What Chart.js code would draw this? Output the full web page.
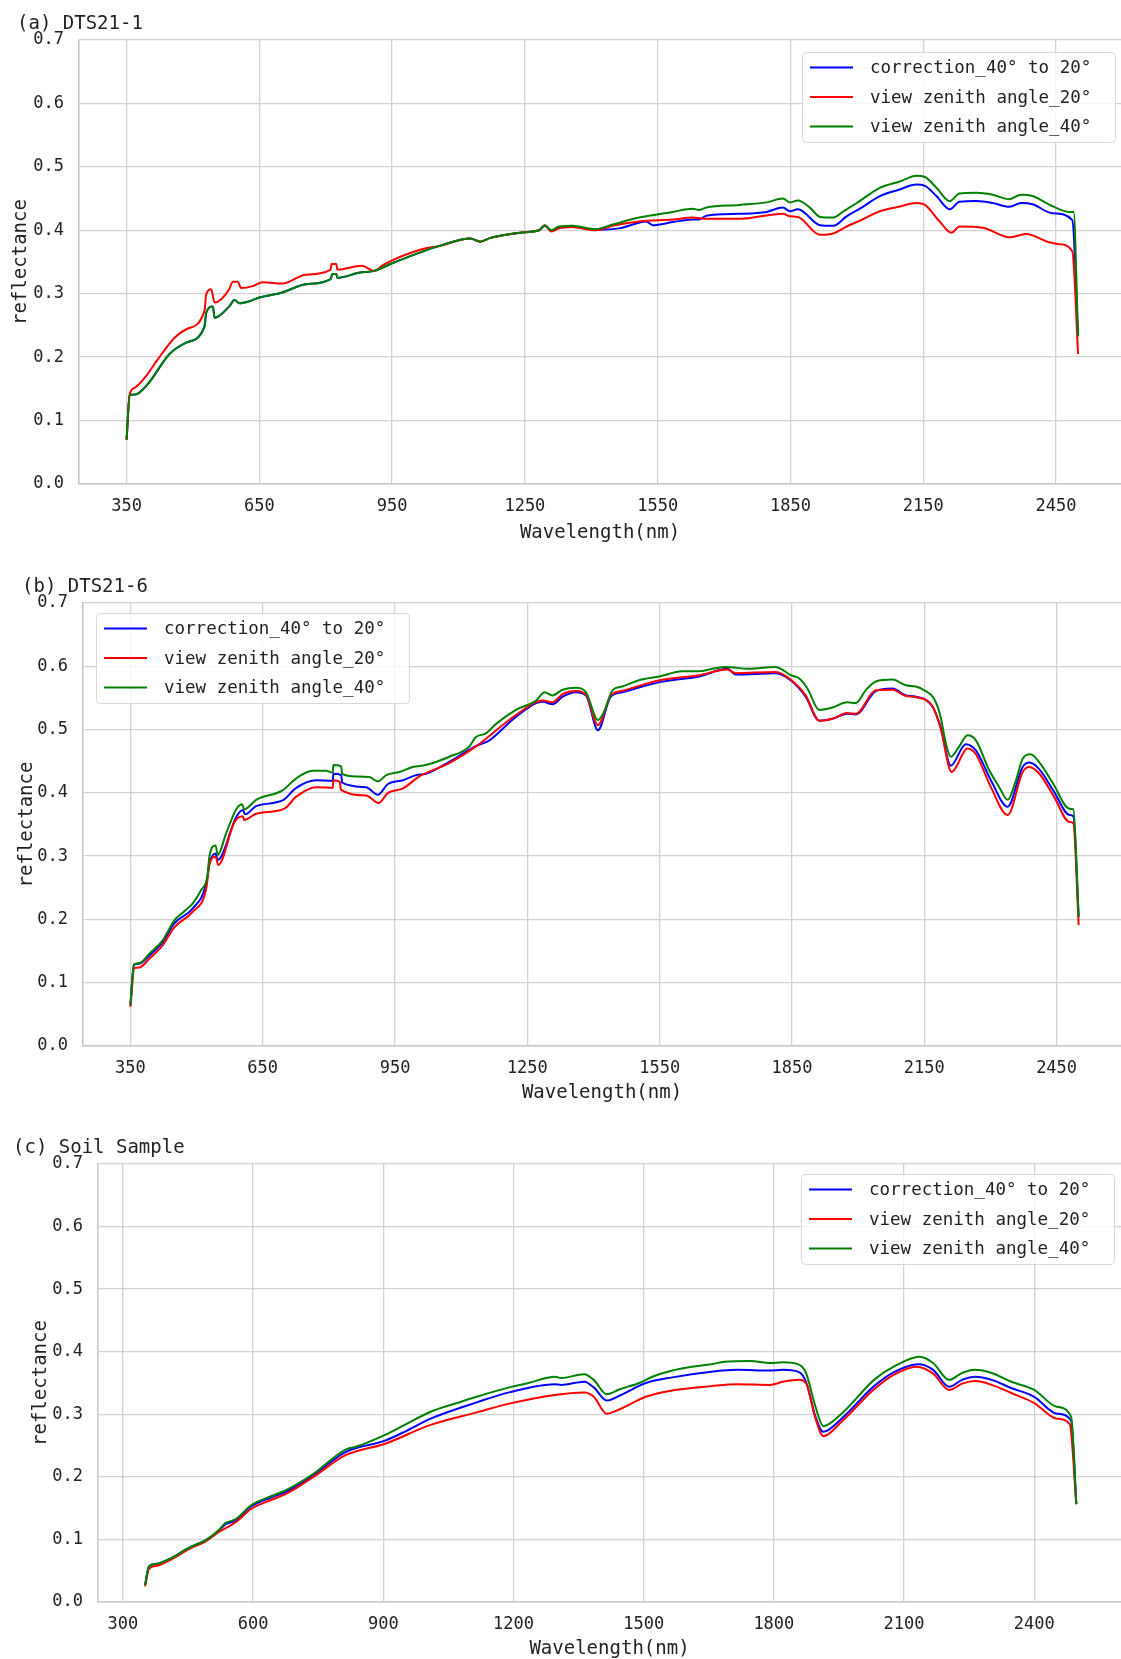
<!DOCTYPE html>
<html>
<head>
<meta charset="utf-8">
<title>Reflectance spectra</title>
<script src="https://cdn.jsdelivr.net/npm/chart.js@4.4.1/dist/chart.umd.min.js"></script>
<style>
  html, body { margin: 0; padding: 0; background: #ffffff; }
  #page { position: relative; width: 1121px; height: 1659px; overflow: hidden; background: #ffffff; }
  .panel { position: absolute; left: 0; width: 1121px; }
  canvas { display: block; }
</style>
</head>
<body>
<div id="page">
  <div class="panel" style="top:0px;height:555px"><canvas id="chartA" width="1121" height="555"></canvas></div>
  <div class="panel" style="top:560px;height:555px"><canvas id="chartB" width="1121" height="555"></canvas></div>
  <div class="panel" style="top:1120px;height:541px"><canvas id="chartC" width="1121" height="541"></canvas></div>
</div>
<script>
// ---- labels -------------------------------------------------------------
const panelTitles = ['(a) DTS21-1', '(b) DTS21-6', '(c) Soil Sample'];
const seriesLabels = ['correction_40° to 20°', 'view zenith angle_20°', 'view zenith angle_40°'];
const xAxisTitle = 'Wavelength(nm)';
const yAxisTitle = 'reflectance';

// ---- tick values ----------------------------------------------------------
const xTicksDts = [350, 650, 950, 1250, 1550, 1850, 2150, 2450];
const xTicksSoil = [300, 600, 900, 1200, 1500, 1800, 2100, 2400];
const yTicks = [0, 0.1, 0.2, 0.3, 0.4, 0.5, 0.6, 0.7];

// ---- (a) DTS21-1 ------------------------------------------------------------
const dts1CorrWl = [350, 357, 369, 395, 447, 485, 526, 530, 545, 549, 582, 594, 605, 627, 650, 702, 755, 811, 815, 824, 826, 875, 909, 950, 1017, 1055, 1127, 1149, 1172, 1250, 1282, 1295, 1310, 1327, 1357, 1410, 1463, 1508, 1524, 1539, 1584, 1629, 1644, 1660, 1735, 1796, 1833, 1849, 1867, 1917, 1947, 1977, 2007, 2052, 2095, 2135, 2154, 2180, 2210, 2232, 2270, 2307, 2345, 2371, 2397, 2442, 2487, 2500];
const dts1CorrRef = [0.070, 0.140, 0.141, 0.155, 0.205, 0.223, 0.248, 0.270, 0.280, 0.262, 0.280, 0.290, 0.285, 0.288, 0.294, 0.302, 0.315, 0.323, 0.331, 0.331, 0.325, 0.333, 0.336, 0.348, 0.366, 0.375, 0.387, 0.382, 0.388, 0.397, 0.400, 0.407, 0.399, 0.404, 0.405, 0.401, 0.403, 0.412, 0.414, 0.408, 0.413, 0.417, 0.417, 0.423, 0.426, 0.429, 0.436, 0.430, 0.433, 0.408, 0.407, 0.422, 0.434, 0.454, 0.464, 0.472, 0.470, 0.454, 0.433, 0.445, 0.446, 0.443, 0.437, 0.443, 0.441, 0.427, 0.416, 0.233];
const dts1Vza20Wl = [350, 357, 369, 395, 420, 459, 485, 526, 530, 541, 549, 582, 590, 601, 609, 635, 657, 702, 755, 811, 813, 824, 826, 882, 909, 931, 1017, 1055, 1127, 1149, 1172, 1250, 1282, 1295, 1310, 1327, 1357, 1410, 1448, 1508, 1584, 1629, 1660, 1735, 1833, 1849, 1867, 1917, 1947, 1977, 2007, 2052, 2095, 2135, 2154, 2187, 2214, 2232, 2285, 2345, 2382, 2435, 2457, 2487, 2500];
const dts1Vza20Ref = [0.070, 0.141, 0.152, 0.171, 0.196, 0.231, 0.244, 0.273, 0.299, 0.307, 0.286, 0.307, 0.319, 0.319, 0.309, 0.312, 0.318, 0.316, 0.330, 0.338, 0.347, 0.347, 0.338, 0.344, 0.336, 0.346, 0.370, 0.375, 0.387, 0.382, 0.388, 0.397, 0.400, 0.408, 0.398, 0.403, 0.405, 0.400, 0.407, 0.414, 0.417, 0.420, 0.418, 0.418, 0.426, 0.422, 0.421, 0.393, 0.395, 0.406, 0.415, 0.430, 0.437, 0.443, 0.440, 0.414, 0.396, 0.406, 0.404, 0.389, 0.394, 0.381, 0.378, 0.367, 0.205];
const dts1Vza40Wl = [350, 357, 369, 395, 447, 485, 526, 530, 545, 549, 582, 594, 605, 627, 650, 702, 755, 811, 815, 824, 826, 875, 909, 950, 1017, 1055, 1127, 1149, 1172, 1250, 1282, 1295, 1310, 1327, 1357, 1410, 1448, 1508, 1584, 1629, 1644, 1660, 1735, 1796, 1833, 1849, 1867, 1895, 1917, 1947, 1970, 2000, 2052, 2097, 2135, 2154, 2180, 2210, 2232, 2270, 2307, 2345, 2371, 2397, 2442, 2480, 2490, 2500];
const dts1Vza40Ref = [0.070, 0.140, 0.141, 0.155, 0.205, 0.223, 0.248, 0.270, 0.280, 0.262, 0.280, 0.290, 0.285, 0.288, 0.294, 0.302, 0.315, 0.323, 0.331, 0.331, 0.325, 0.333, 0.336, 0.348, 0.366, 0.375, 0.387, 0.382, 0.388, 0.397, 0.400, 0.408, 0.400, 0.406, 0.407, 0.402, 0.409, 0.420, 0.429, 0.434, 0.432, 0.436, 0.440, 0.444, 0.450, 0.444, 0.447, 0.435, 0.421, 0.420, 0.430, 0.443, 0.467, 0.477, 0.486, 0.484, 0.467, 0.446, 0.458, 0.459, 0.456, 0.449, 0.456, 0.454, 0.438, 0.429, 0.429, 0.233];

// ---- (b) DTS21-6 ------------------------------------------------------------
const dts6CorrWl = [350, 358, 370, 393, 423, 450, 491, 522, 529, 543, 548, 590, 605, 610, 635, 695, 726, 771, 809, 810, 828, 830, 884, 911, 934, 968, 998, 1020, 1073, 1133, 1164, 1224, 1285, 1307, 1330, 1360, 1383, 1410, 1439, 1465, 1550, 1639, 1704, 1722, 1813, 1847, 1881, 1912, 1942, 1975, 1995, 2040, 2078, 2108, 2131, 2169, 2187, 2210, 2244, 2267, 2301, 2339, 2373, 2389, 2410, 2444, 2479, 2488, 2500];
const dts6CorrRef = [0.065, 0.128, 0.130, 0.143, 0.164, 0.194, 0.217, 0.257, 0.288, 0.304, 0.294, 0.362, 0.373, 0.366, 0.379, 0.388, 0.408, 0.420, 0.419, 0.430, 0.428, 0.416, 0.409, 0.397, 0.414, 0.420, 0.428, 0.430, 0.449, 0.474, 0.483, 0.520, 0.544, 0.540, 0.552, 0.559, 0.554, 0.499, 0.552, 0.559, 0.575, 0.584, 0.596, 0.587, 0.589, 0.578, 0.552, 0.514, 0.517, 0.525, 0.524, 0.561, 0.565, 0.554, 0.552, 0.536, 0.504, 0.443, 0.477, 0.467, 0.420, 0.378, 0.441, 0.448, 0.438, 0.402, 0.365, 0.363, 0.204];
const dts6Vza20Wl = [350, 359, 370, 393, 423, 450, 491, 522, 529, 543, 549, 586, 605, 608, 635, 699, 726, 771, 809, 810, 825, 827, 884, 913, 934, 968, 1005, 1073, 1133, 1224, 1285, 1307, 1330, 1360, 1383, 1410, 1439, 1465, 1550, 1639, 1704, 1722, 1813, 1847, 1881, 1912, 1942, 1975, 1995, 2040, 2078, 2108, 2131, 2169, 2187, 2212, 2248, 2267, 2301, 2339, 2373, 2388, 2410, 2444, 2479, 2488, 2500];
const dts6Vza20Ref = [0.062, 0.123, 0.124, 0.138, 0.159, 0.188, 0.212, 0.249, 0.286, 0.299, 0.286, 0.354, 0.363, 0.357, 0.367, 0.375, 0.394, 0.409, 0.408, 0.420, 0.417, 0.405, 0.396, 0.384, 0.400, 0.407, 0.426, 0.447, 0.473, 0.523, 0.546, 0.543, 0.556, 0.561, 0.555, 0.507, 0.554, 0.561, 0.578, 0.586, 0.595, 0.589, 0.591, 0.579, 0.554, 0.514, 0.517, 0.526, 0.525, 0.562, 0.563, 0.553, 0.551, 0.536, 0.502, 0.433, 0.470, 0.461, 0.409, 0.365, 0.433, 0.441, 0.431, 0.394, 0.354, 0.352, 0.191];
const dts6Vza40Wl = [350, 358, 370, 393, 423, 450, 469, 491, 510, 525, 529, 543, 548, 567, 590, 603, 608, 635, 695, 726, 763, 793, 809, 810, 828, 830, 862, 892, 911, 930, 960, 990, 1020, 1073, 1118, 1133, 1156, 1179, 1224, 1270, 1289, 1307, 1330, 1360, 1383, 1410, 1424, 1443, 1465, 1503, 1550, 1601, 1639, 1669, 1700, 1753, 1813, 1825, 1847, 1866, 1885, 1912, 1942, 1975, 1995, 2017, 2040, 2078, 2108, 2131, 2150, 2172, 2187, 2199, 2210, 2229, 2248, 2267, 2297, 2320, 2339, 2358, 2373, 2391, 2410, 2441, 2479, 2488, 2500];
const dts6Vza40Ref = [0.065, 0.129, 0.131, 0.146, 0.167, 0.199, 0.211, 0.225, 0.246, 0.270, 0.299, 0.317, 0.302, 0.336, 0.374, 0.382, 0.374, 0.389, 0.404, 0.423, 0.435, 0.435, 0.432, 0.444, 0.442, 0.430, 0.426, 0.425, 0.418, 0.428, 0.433, 0.441, 0.444, 0.457, 0.473, 0.488, 0.494, 0.509, 0.531, 0.546, 0.559, 0.554, 0.563, 0.566, 0.559, 0.515, 0.528, 0.562, 0.568, 0.578, 0.584, 0.592, 0.592, 0.596, 0.599, 0.596, 0.599, 0.596, 0.586, 0.581, 0.565, 0.531, 0.535, 0.543, 0.542, 0.562, 0.576, 0.579, 0.570, 0.568, 0.562, 0.549, 0.520, 0.478, 0.457, 0.473, 0.491, 0.483, 0.436, 0.409, 0.389, 0.420, 0.454, 0.461, 0.449, 0.416, 0.375, 0.374, 0.204];

// ---- (c) Soil Sample --------------------------------------------------------
const soilCorrWl = [351, 360, 378, 408, 453, 491, 521, 536, 559, 596, 641, 679, 739, 814, 904, 949, 1009, 1115, 1190, 1295, 1310, 1363, 1385, 1415, 1445, 1505, 1566, 1656, 1716, 1791, 1821, 1859, 1874, 1896, 1914, 1956, 2031, 2076, 2133, 2167, 2204, 2234, 2264, 2302, 2347, 2400, 2452, 2485, 2497];
const soilCorrRef = [0.027, 0.057, 0.061, 0.069, 0.087, 0.099, 0.114, 0.124, 0.130, 0.153, 0.167, 0.177, 0.203, 0.240, 0.258, 0.272, 0.293, 0.319, 0.335, 0.348, 0.347, 0.352, 0.343, 0.322, 0.330, 0.350, 0.359, 0.368, 0.371, 0.370, 0.371, 0.367, 0.352, 0.296, 0.272, 0.293, 0.345, 0.367, 0.380, 0.371, 0.344, 0.355, 0.360, 0.355, 0.342, 0.328, 0.301, 0.290, 0.157];
const soilVza20Wl = [351, 360, 378, 408, 453, 491, 521, 559, 596, 641, 679, 739, 814, 904, 1009, 1115, 1190, 1295, 1363, 1385, 1415, 1445, 1505, 1566, 1656, 1716, 1791, 1821, 1859, 1874, 1896, 1914, 1956, 2031, 2076, 2129, 2167, 2204, 2234, 2264, 2302, 2347, 2400, 2452, 2482, 2497];
const soilVza20Ref = [0.025, 0.053, 0.058, 0.067, 0.085, 0.097, 0.112, 0.127, 0.149, 0.163, 0.174, 0.200, 0.235, 0.253, 0.283, 0.303, 0.317, 0.331, 0.335, 0.328, 0.301, 0.308, 0.328, 0.338, 0.345, 0.348, 0.347, 0.352, 0.355, 0.350, 0.293, 0.265, 0.288, 0.340, 0.363, 0.376, 0.365, 0.339, 0.349, 0.353, 0.347, 0.334, 0.318, 0.293, 0.284, 0.156];
const soilVza40Wl = [351, 360, 378, 408, 453, 491, 521, 536, 559, 596, 641, 679, 739, 814, 837, 904, 949, 1009, 1070, 1115, 1190, 1235, 1295, 1310, 1363, 1385, 1415, 1445, 1490, 1520, 1566, 1611, 1656, 1686, 1746, 1791, 1821, 1859, 1874, 1896, 1914, 1956, 2031, 2076, 2136, 2167, 2204, 2234, 2264, 2302, 2347, 2400, 2452, 2485, 2497];
const soilVza40Ref = [0.027, 0.057, 0.061, 0.069, 0.087, 0.099, 0.115, 0.126, 0.132, 0.155, 0.169, 0.180, 0.205, 0.244, 0.248, 0.267, 0.283, 0.304, 0.318, 0.328, 0.343, 0.350, 0.360, 0.358, 0.364, 0.355, 0.332, 0.340, 0.350, 0.360, 0.370, 0.376, 0.380, 0.384, 0.385, 0.382, 0.383, 0.379, 0.366, 0.312, 0.281, 0.301, 0.355, 0.376, 0.392, 0.382, 0.355, 0.366, 0.371, 0.366, 0.352, 0.339, 0.312, 0.296, 0.157];

// ---- styling ----------------------------------------------------------------
const FONT = '"DejaVu Sans Mono", "Liberation Mono", monospace';
const TEXT = '#222222';
const GRID = '#d2d2d2';
const lineColors = ['#0000ff', '#ff0000', '#008000'];

Chart.defaults.font.family = FONT;
Chart.defaults.color = TEXT;

function pairs(wl, ref) {
  return wl.map((w, i) => ({ x: w, y: ref[i] }));
}

function roundedRect(ctx, x, y, w, h, r) {
  ctx.beginPath();
  ctx.moveTo(x + r, y);
  ctx.lineTo(x + w - r, y);
  ctx.arcTo(x + w, y, x + w, y + r, r);
  ctx.lineTo(x + w, y + h - r);
  ctx.arcTo(x + w, y + h, x + w - r, y + h, r);
  ctx.lineTo(x + r, y + h);
  ctx.arcTo(x, y + h, x, y + h - r, r);
  ctx.lineTo(x, y + r);
  ctx.arcTo(x, y, x + r, y, r);
  ctx.closePath();
}

// Legend box drawn inside the plotting area
const insetLegend = {
  id: 'insetLegend',
  afterDatasetsDraw(chart, args, o) {
    const { ctx, chartArea: ca } = chart;
    const w = 313, h = 90;
    const x = o.corner === 'ne' ? ca.right - o.dx - w : ca.left + o.dx;
    const y = ca.top + o.dy;
    ctx.save();
    roundedRect(ctx, x + 0.5, y + 0.5, w, h, 4);
    ctx.fillStyle = 'rgba(255,255,255,0.8)';
    ctx.fill();
    ctx.strokeStyle = '#d8d8d8';
    ctx.lineWidth = 1;
    ctx.stroke();
    ctx.font = '17.5px ' + FONT;
    ctx.textBaseline = 'middle';
    ctx.textAlign = 'left';
    o.labels.forEach((lab, i) => {
      const cy = y + 15.5 + i * 29.5;
      ctx.strokeStyle = o.colors[i];
      ctx.lineWidth = 2;
      ctx.beginPath();
      ctx.moveTo(x + 8, cy);
      ctx.lineTo(x + 51, cy);
      ctx.stroke();
      ctx.fillStyle = TEXT;
      ctx.fillText(lab, x + 68, cy + 1);
    });
    ctx.restore();
  }
};

// Panel caption in the top-left corner
const panelTitle = {
  id: 'panelTitle',
  afterDraw(chart, args, o) {
    const { ctx } = chart;
    ctx.save();
    ctx.font = '19px ' + FONT;
    ctx.fillStyle = TEXT;
    ctx.textBaseline = 'middle';
    ctx.textAlign = 'left';
    ctx.fillText(o.text, o.x, o.y);
    ctx.restore();
  }
};

const panels = [
  {
    id: 'chartA', title: panelTitles[0], titleX: 17, titleY: 24,
    series: [[dts1CorrWl, dts1CorrRef], [dts1Vza20Wl, dts1Vza20Ref], [dts1Vza40Wl, dts1Vza40Ref]],
    xTicks: xTicksDts, xMin: 242.5, xMax: 2597,
    height: 555, plotLeft: 79, plotTop: 40, plotBottom: 484,
    yTitlePad: 9.5, xTitlePad: 10.6,
    legend: { corner: 'ne', dx: 6, dy: 12 }
  },
  {
    id: 'chartB', title: panelTitles[1], titleX: 22, titleY: 27,
    series: [[dts6CorrWl, dts6CorrRef], [dts6Vza20Wl, dts6Vza20Ref], [dts6Vza40Wl, dts6Vza40Ref]],
    xTicks: xTicksDts, xMin: 242.5, xMax: 2596,
    height: 555, plotLeft: 83, plotTop: 43, plotBottom: 486,
    yTitlePad: 15.5, xTitlePad: 10.6,
    legend: { corner: 'nw', dx: 13, dy: 10 }
  },
  {
    id: 'chartC', title: panelTitles[2], titleX: 13, titleY: 28,
    series: [[soilCorrWl, soilCorrRef], [soilVza20Wl, soilVza20Ref], [soilVza40Wl, soilVza40Ref]],
    xTicks: xTicksSoil, xMin: 242.5, xMax: 2600,
    height: 541, plotLeft: 98, plotTop: 44, plotBottom: 482,
    yTitlePad: 30, xTitlePad: 0.6,
    legend: { corner: 'ne', dx: 7, dy: 10 }
  }
];

panels.forEach(p => {
  // correction drawn first, then 20°, then 40° on top
  const drawOrder = [2, 1, 0];
  const datasets = p.series.map((s, i) => ({
    label: seriesLabels[i],
    data: pairs(s[0], s[1]),
    borderColor: lineColors[i],
    backgroundColor: lineColors[i],
    borderWidth: 2,
    pointRadius: 0,
    fill: false,
    cubicInterpolationMode: 'monotone',
    borderJoinStyle: 'round',
    order: drawOrder[i]
  }));

  new Chart(document.getElementById(p.id), {
    type: 'line',
    data: { datasets },
    plugins: [insetLegend, panelTitle],
    options: {
      responsive: false,
      animation: false,
      devicePixelRatio: 1,
      layout: { padding: { top: p.plotTop, left: 0, right: 0, bottom: 0 } },
      plugins: {
        legend: { display: false },
        tooltip: { enabled: false },
        insetLegend: { corner: p.legend.corner, dx: p.legend.dx, dy: p.legend.dy, labels: seriesLabels, colors: lineColors },
        panelTitle: { text: p.title, x: p.titleX, y: p.titleY }
      },
      scales: {
        x: {
          type: 'linear',
          min: p.xMin,
          max: p.xMax,
          afterBuildTicks: axis => { axis.ticks = p.xTicks.map(v => ({ value: v })); },
          afterFit: scale => { scale.height = p.height - p.plotBottom; },
          ticks: {
            autoSkip: false, maxRotation: 0, padding: 12,
            font: { size: 17 }, color: TEXT,
            callback: v => String(v)
          },
          grid: { color: GRID, lineWidth: 1.3, drawTicks: false },
          border: { display: true, color: '#c8c8c8', width: 1.6 },
          title: {
            display: true, text: xAxisTitle, color: TEXT,
            font: { size: 19 }, padding: { top: 0, bottom: p.xTitlePad }
          }
        },
        y: {
          type: 'linear',
          min: 0,
          max: 0.7,
          afterBuildTicks: axis => { axis.ticks = yTicks.map(v => ({ value: v })); },
          afterFit: scale => { scale.width = p.plotLeft; },
          ticks: {
            padding: 15, font: { size: 17 }, color: TEXT,
            callback: v => Number(v).toFixed(1)
          },
          grid: { color: GRID, lineWidth: 1.3, drawTicks: false },
          border: { display: true, color: '#c8c8c8', width: 1.6 },
          title: {
            display: true, text: yAxisTitle, color: TEXT,
            font: { size: 19 }, padding: { top: p.yTitlePad, bottom: 0 }
          }
        }
      }
    }
  });
});
</script>
</body>
</html>
